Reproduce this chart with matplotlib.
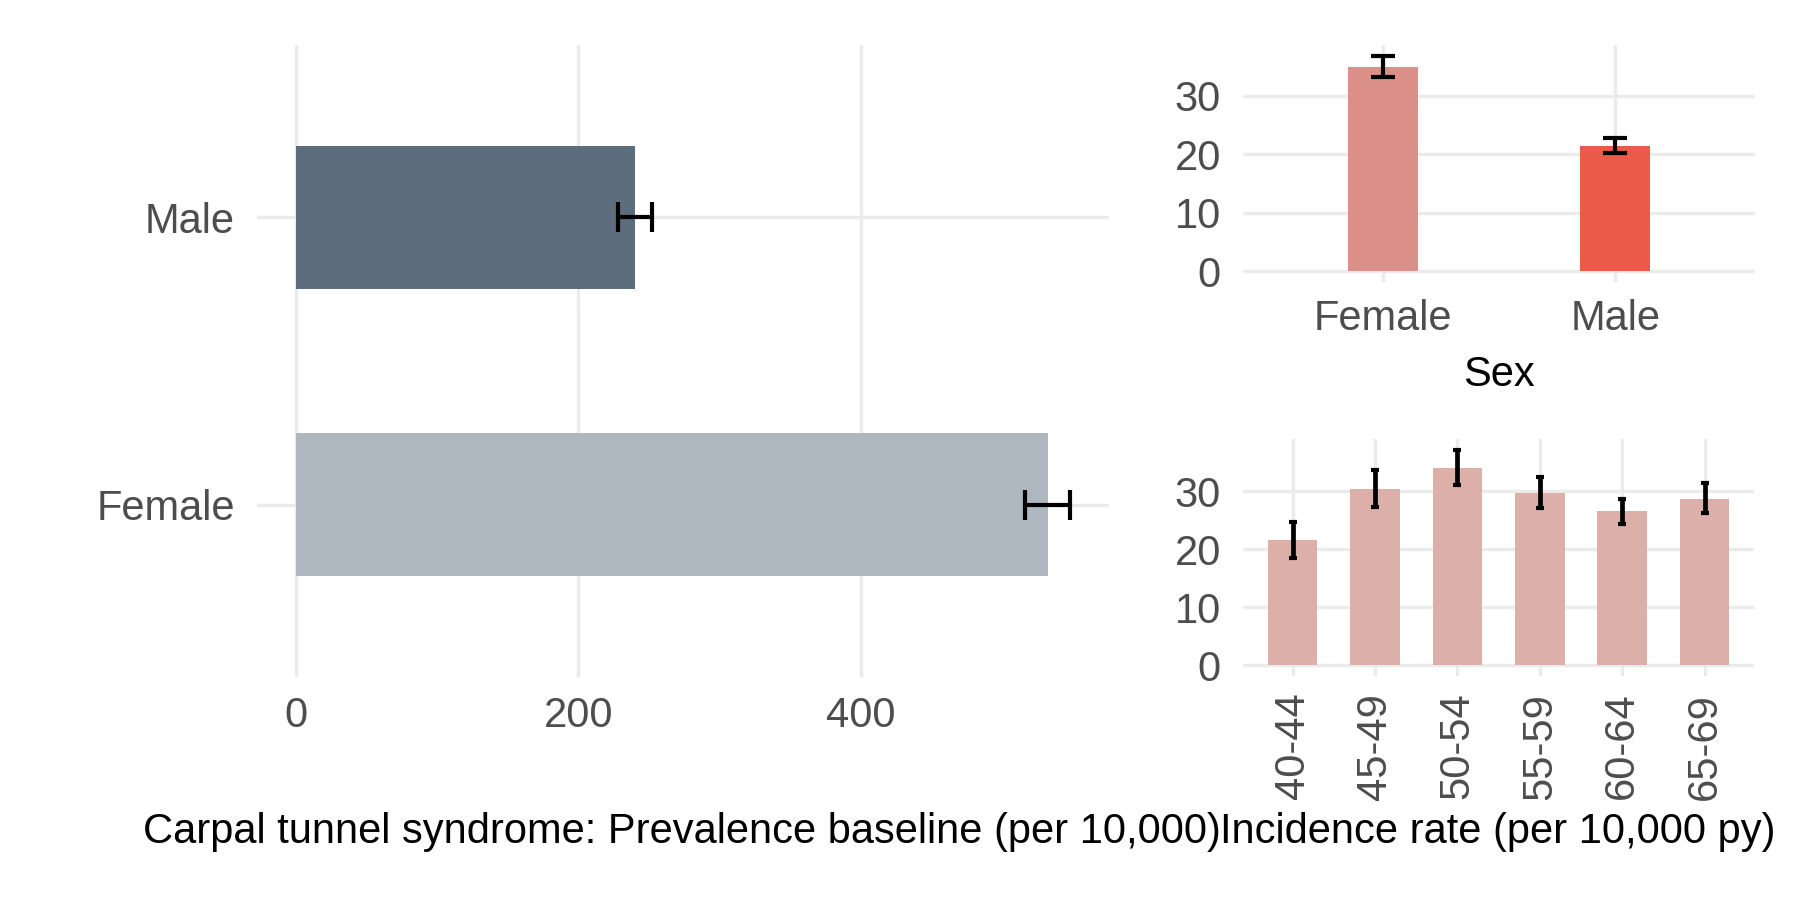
import matplotlib
matplotlib.use("Agg")
import matplotlib.pyplot as plt
import numpy as np

# ---------- data ----------
# prevalence baseline (per 10,000), by sex
prev_sex = ["Female", "Male"]
prev_val = [532, 240]
prev_lo = [516, 228]
prev_hi = [548, 252]

# incidence rate (per 10,000 py), by sex
inc_sex = ["Female", "Male"]
inc_sex_val = [34.9, 21.4]
inc_sex_lo = [33.2, 20.2]
inc_sex_hi = [36.8, 22.7]

# incidence rate by age group
age_groups = ["40-44", "45-49", "50-54", "55-59", "60-64", "65-69"]
inc_age_val = [21.6, 30.3, 34.0, 29.6, 26.5, 28.7]
inc_age_lo = [18.5, 27.2, 31.0, 27.0, 24.4, 26.3]
inc_age_hi = [24.7, 33.6, 37.1, 32.4, 28.7, 31.3]

prev_colors = ["#AEB6BF", "#5D6D7E"]
inc_sex_colors = ["#DB918A", "#EC5A4A"]
age_color = "#DCAFA9"

GRID = "#EBEBEB"
TICK = "#4D4D4D"
FS = 30

plt.rcParams["font.family"] = ["Liberation Sans", "DejaVu Sans"]


def style(ax):
    for s in ax.spines.values():
        s.set_visible(False)
    ax.set_axisbelow(True)
    ax.grid(True, color=GRID, linewidth=2.4)
    ax.tick_params(length=0, labelsize=FS, labelcolor=TICK)


def err(vals, lo, hi):
    v = np.array(vals)
    return [v - np.array(lo), np.array(hi) - v]


fig = plt.figure(figsize=(18, 9), dpi=100)

# ---------- left: prevalence ----------
ax1 = fig.add_axes([0.1428, 0.2478, 0.4733, 0.7022])
y = np.arange(1, len(prev_sex) + 1)
ax1.barh(y, prev_val, height=0.5, color=prev_colors)
ax1.errorbar(prev_val, y, xerr=err(prev_val, prev_lo, prev_hi), fmt="none",
             ecolor="black", elinewidth=3, capsize=10.5, capthick=3)
hi = max(prev_hi)
ax1.set_xlim(-0.05 * hi, 1.05 * hi)
ax1.set_ylim(0.4, len(prev_sex) + 0.6)
ax1.set_xticks([0, 200, 400])
ax1.set_yticks(y)
ax1.set_yticklabels(prev_sex)
style(ax1)
ax1.tick_params(axis="y", pad=16)
ax1.tick_params(axis="x", pad=14)

# ---------- top right: incidence by sex ----------
ax2 = fig.add_axes([0.6906, 0.6867, 0.2844, 0.2633])
x = np.arange(1, len(inc_sex) + 1)
ax2.bar(x, inc_sex_val, width=0.3, color=inc_sex_colors)
ax2.errorbar(x, inc_sex_val, yerr=err(inc_sex_val, inc_sex_lo, inc_sex_hi),
             fmt="none", ecolor="black", elinewidth=3, capsize=8.3, capthick=3)
hi = max(inc_sex_hi)
ax2.set_ylim(-0.05 * hi, 1.05 * hi)
ax2.set_xlim(0.4, len(inc_sex) + 0.6)
ax2.set_yticks([0, 10, 20, 30])
ax2.set_xticks(x)
ax2.set_xticklabels(inc_sex)
style(ax2)
ax2.tick_params(axis="y", pad=16)
ax2.tick_params(axis="x", pad=12)
ax2.set_xlabel("Sex", fontsize=FS, color="black", labelpad=12)

# ---------- bottom right: incidence by age ----------
ax3 = fig.add_axes([0.6906, 0.2489, 0.2839, 0.2633])
x = np.arange(1, len(age_groups) + 1)
ax3.bar(x, inc_age_val, width=0.6, color=age_color)
ax3.errorbar(x, inc_age_val, yerr=err(inc_age_val, inc_age_lo, inc_age_hi),
             fmt="none", ecolor="black", elinewidth=3.4, capsize=2.8, capthick=3)
hi = max(inc_age_hi)
ax3.set_ylim(-0.05 * hi, 1.05 * hi)
ax3.set_xlim(0.4, len(age_groups) + 0.6)
ax3.set_yticks([0, 10, 20, 30])
ax3.set_xticks(x)
ax3.set_xticklabels(age_groups, rotation=90)
style(ax3)
ax3.tick_params(axis="y", pad=16)
ax3.tick_params(axis="x", pad=12)

# captions under each column
fig.text(0.3789, 0.075, "Carpal tunnel syndrome: Prevalence baseline (per 10,000)",
         ha="center", va="center", fontsize=FS, color="black")
fig.text(0.8322, 0.075, "Incidence rate (per 10,000 py)",
         ha="center", va="center", fontsize=FS, color="black")

fig.savefig("out.png", dpi=100)
